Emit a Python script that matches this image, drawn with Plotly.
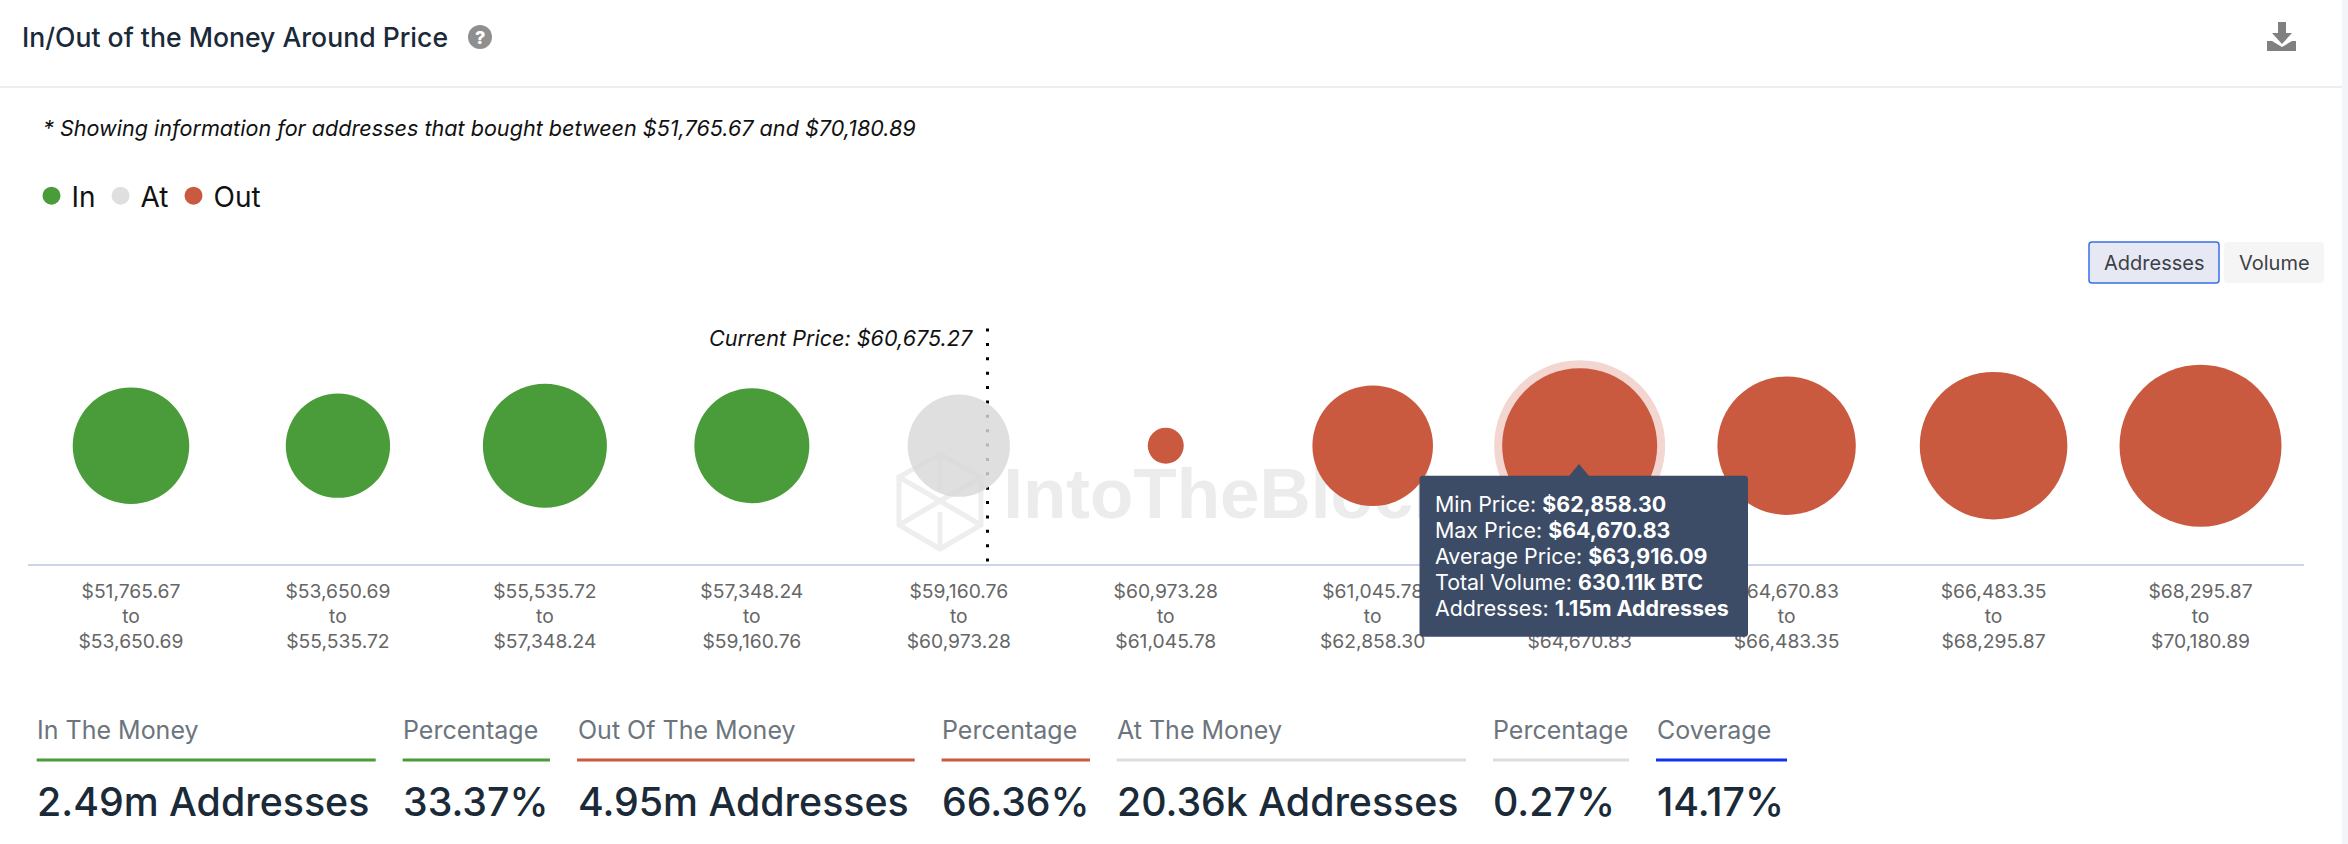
import math
import plotly.graph_objects as go

# ---- data ----
range_low = ["$51,765.67", "$53,650.69", "$55,535.72", "$57,348.24", "$59,160.76", "$60,973.28",
             "$61,045.78", "$62,858.30", "$64,670.83", "$66,483.35", "$68,295.87"]
range_high = ["$53,650.69", "$55,535.72", "$57,348.24", "$59,160.76", "$60,973.28", "$61,045.78",
              "$62,858.30", "$64,670.83", "$66,483.35", "$68,295.87", "$70,180.89"]
in_idx = [0, 1, 2, 3]
in_addresses = [650000, 521000, 736000, 633000]
at_idx = [4]
at_addresses = [501000]
out_idx = [5, 6, 7, 8, 9, 10]
out_addresses = [62000, 696000, 1150000, 917000, 1043000, 1256000]
highlight_idx = 7
highlight_value = 1150000
tooltip_labels = ["Min Price:", "Max Price:", "Average Price:", "Total Volume:", "Addresses:"]
tooltip_values = ["$62,858.30", "$64,670.83", "$63,916.09", "630.11k BTC", "1.15m Addresses"]
stat_labels = ["In The Money", "Percentage", "Out Of The Money", "Percentage", "At The Money", "Percentage", "Coverage"]
stat_values = ["2.49m Addresses", "33.37%", "4.95m Addresses", "66.36%", "20.36k Addresses", "0.27%", "14.17%"]
stat_colors = ["#4a9c3a", "#4a9c3a", "#c95a40", "#c95a40", "#dedede", "#dedede", "#1133ee"]
stat_x0 = [36.7, 402.7, 577, 941.6, 1116.8, 1492.9, 1656]
stat_x1 = [375.7, 550, 914.7, 1090, 1466, 1629, 1787]

W, H = 2348, 844
FONT = "Inter"
GREEN, RED, GRAY = "#4a9c3a", "#c95a40", "rgba(217,217,217,0.83)"
SIZEREF = 2 * 1150000 / 155 ** 2

X = lambda p: p / W
Y = lambda p: 1 - p / H
AX_L, AX_R, AX_Y, AX_T, CY = 27.5, 2304, 563.5, 210, 445.7
n = len(range_low)
px_to_idx = lambda p: (p - AX_L) / (AX_R - AX_L) * n - 0.5

fig = go.Figure()

# watermark text sits under the bubbles
fig.add_trace(go.Scatter(x=[px_to_idx(1228)], y=[CY - 500.5], mode="text", text=["IntoTheBlock"],
                         textfont=dict(family="Liberation Sans", size=71, color="#ececec", weight=700),
                         showlegend=False, hoverinfo="skip", cliponaxis=False))
# hover halo
fig.add_trace(go.Scatter(x=[highlight_idx], y=[0], mode="markers", showlegend=False, hoverinfo="skip",
                         marker=dict(size=[math.sqrt(2 * highlight_value / SIZEREF) + 16], color="#f2d6cf",
                                     opacity=1, line=dict(width=0)), cliponaxis=False))


def bubbles(name, idx, vals, color):
    fig.add_trace(go.Scatter(x=idx, y=[0] * len(idx), mode="markers", name=name, showlegend=False, cliponaxis=False,
                             marker=dict(size=vals, sizemode="area", sizeref=SIZEREF, color=color, opacity=1,
                                         line=dict(width=0))))
    fig.add_trace(go.Scatter(x=[None], y=[None], mode="markers", name=name,
                             marker=dict(size=16, color=color, opacity=1, line=dict(width=2, color=color))))


bubbles("In", in_idx, in_addresses, GREEN)
bubbles("At", at_idx, at_addresses, "#dfdfdf")
fig.data[-2].marker.color = GRAY
bubbles("Out", out_idx, out_addresses, RED)

shapes = []
annotations = []


def text(p_x, p_y, s, size, color="#1b2a38", anchor="left", weight=None, italic=False, valign="middle", align=None):
    f = dict(family=FONT, size=size, color=color)
    if weight:
        f["weight"] = weight
    if italic:
        f["style"] = "italic"
    annotations.append(dict(x=X(p_x), y=Y(p_y), xref="paper", yref="paper", text=s, showarrow=False,
                            xanchor=anchor, yanchor=valign, font=f, align=align or anchor, borderpad=0, borderwidth=0))


def rect(x0, y0, x1, y1, fill, line=None, lw=0, layer="above"):
    shapes.append(dict(type="rect", xref="paper", yref="paper", x0=X(x0), x1=X(x1), y0=Y(y0), y1=Y(y1),
                       fillcolor=fill, line=dict(color=line or fill, width=lw), layer=layer))


def path(points, stroke=None, lw=0, fill=None, close=True, layer="above"):
    d = "M" + " L".join(f"{X(a):.6f},{Y(b):.6f}" for a, b in points) + (" Z" if close else "")
    shapes.append(dict(type="path", xref="paper", yref="paper", path=d, layer=layer,
                       fillcolor=fill or "rgba(0,0,0,0)", line=dict(color=stroke or "rgba(0,0,0,0)", width=lw)))


def rrect(x0, y0, x1, y1, r, fill, line=None, lw=0):
    k = r * 0.45
    d = (f"M{X(x0+r)},{Y(y0)} L{X(x1-r)},{Y(y0)} C{X(x1-k)},{Y(y0)} {X(x1)},{Y(y0+k)} {X(x1)},{Y(y0+r)} "
         f"L{X(x1)},{Y(y1-r)} C{X(x1)},{Y(y1-k)} {X(x1-k)},{Y(y1)} {X(x1-r)},{Y(y1)} "
         f"L{X(x0+r)},{Y(y1)} C{X(x0+k)},{Y(y1)} {X(x0)},{Y(y1-k)} {X(x0)},{Y(y1-r)} "
         f"L{X(x0)},{Y(y0+r)} C{X(x0)},{Y(y0+k)} {X(x0+k)},{Y(y0)} {X(x0+r)},{Y(y0)} Z")
    shapes.append(dict(type="path", xref="paper", yref="paper", path=d, fillcolor=fill, layer="above",
                       line=dict(color=line or fill, width=lw)))


# frame
rect(0, 86, 2342, 88, "#eeeeee")
rect(2342, 0, 2348, 844, "#f3f4f9")

# header
text(21.7, 37, "In/Out of the Money Around Price", 26.6, weight=500)
shapes.append(dict(type="circle", xref="paper", yref="paper", x0=X(468), x1=X(492), y0=Y(49), y1=Y(25),
                   fillcolor="#8f8f8f", line=dict(width=0), layer="above"))
text(480, 37, "?", 18, "#ffffff", "center", weight=800)
text(43, 128, "* Showing information for addresses that bought between $51,765.67 and $70,180.89", 21.6, "#111111", italic=True)

# download icon
path([(2278, 22), (2286, 22), (2286, 33), (2292, 33), (2282, 44), (2272, 33), (2278, 33)], fill="#808080")
path([(2267, 41), (2272, 41), (2282, 47), (2292, 41), (2296, 41), (2296, 51), (2267, 51)], fill="#808080")

# toggle buttons
rrect(2089, 242, 2219, 283, 3, "#e6e9f4", "#3a6ee8", 1.5)
rrect(2224, 242, 2324, 283, 3, "#f5f5f5")
text(2154, 262.5, "Addresses", 20, "#3c4048", "center")
text(2274, 262.5, "Volume", 20, "#3c4048", "center")

# watermark logo (under the bubbles)
wm = "#eeeeee"
path([(940, 454), (981, 477), (981, 525), (940, 549), (899, 525), (899, 477)], stroke=wm, lw=5, layer="below")
path([(899, 477), (981, 525)], stroke=wm, lw=5, close=False, layer="below")
path([(981, 477), (899, 525)], stroke=wm, lw=5, close=False, layer="below")
path([(940, 454), (940, 490)], stroke=wm, lw=5, close=False, layer="below")
path([(940, 549), (940, 512)], stroke=wm, lw=5, close=False, layer="below")

# current price marker
shapes.append(dict(type="line", xref="x", yref="paper", x0=px_to_idx(987.5), x1=px_to_idx(987.5), y0=Y(328.5), y1=Y(563.5),
                   line=dict(color="#000000", width=3, dash="3px,11.375px"), layer="below"))
text(973, 338, "Current Price: $60,675.27", 21.6, "#111111", "right", italic=True)

# tooltip
rrect(1419.5, 475.7, 1748, 636.7, 3, "#3c4b66")
path([(1569, 476), (1579, 464), (1589, 476)], fill="#3c4b66")
for i, (a, b) in enumerate(zip(tooltip_labels, tooltip_values)):
    text(1434.5, 503.7 + 26 * i, f"{a} <b>{b}</b>", 21.4, "#ffffff", "left")

# stats
for x0, x1, lab, val, col in zip(stat_x0, stat_x1, stat_labels, stat_values, stat_colors):
    text(x0 + 0.5, 730, lab, 25, "#6c757d")
    rect(x0, 758.5, x1, 761.5, col)
    text(x0 + 0.5, 801, val, 39.3, "#1b2a38", weight=500)

fig.update_layout(
    width=W, height=H, margin=dict(l=0, r=0, t=0, b=0), autosize=False,
    paper_bgcolor="#ffffff", plot_bgcolor="#ffffff",
    font=dict(family=FONT),
    hovermode=False,
    xaxis=dict(domain=[X(AX_L), X(AX_R)], range=[-0.5, n - 0.5], tickmode="array", tickvals=list(range(n)),
               ticktext=[f"{a}<br>to<br>{b}" for a, b in zip(range_low, range_high)],
               tickfont=dict(family=FONT, size=19.3, color="#666666"), ticks="", showgrid=False, zeroline=False,
               showline=True, linecolor="#ccd6eb", linewidth=2, fixedrange=True, ticklabelstandoff=9),
    yaxis=dict(domain=[Y(AX_Y), Y(AX_T)], range=[AX_Y * -1 + CY, CY - AX_T], showticklabels=False, ticks="",
               showgrid=False, zeroline=False, showline=False, fixedrange=True),
    legend=dict(orientation="h", x=X(31.5), xanchor="left", y=Y(196), yanchor="middle", font=dict(family=FONT, size=28, color="#111111"),
                bgcolor="rgba(0,0,0,0)", itemsizing="trace", itemclick=False, itemdoubleclick=False),
    shapes=shapes, annotations=annotations,
)

fig.write_html("out.html", config=dict(displayModeBar=False),
               post_script="document.body.style.margin='0';")
